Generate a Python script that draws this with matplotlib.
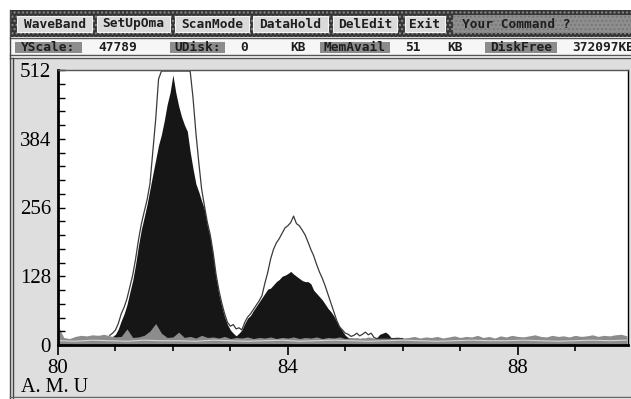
import numpy as np
import matplotlib
matplotlib.use("Agg")
import matplotlib.pyplot as plt
from matplotlib.patches import Rectangle
from matplotlib.ticker import MultipleLocator

# ---------------------------------------------------------------- spectrum data
# peak region, 0.05 amu steps from 80.90 to 86.00
peak_mass = np.round(np.arange(80.90, 86.001, 0.05), 2)
signal = [15, 16, 20, 30, 45, 58, 75, 98, 120, 150,
          185, 215, 238, 262, 290, 318, 345, 372, 392, 418,
          448, 470, 503, 470, 445, 425, 410, 398, 360, 328,
          300, 285, 268, 252, 222, 200, 165, 125, 95, 72,
          52, 38, 28, 22, 17, 22, 28, 40, 50, 55,
          64, 72, 80, 88, 96, 104, 106, 112, 118, 122,
          128, 130, 133, 137, 132, 128, 124, 120, 118, 118,
          114, 102, 96, 90, 84, 76, 68, 62, 54, 44,
          34, 26, 18, 14, 12, 12, 13, 12, 13, 12,
          12, 12, 12, 14, 20, 22, 24, 20, 13, 12,
          12, 12, 12]
envelope = [18, 22, 28, 40, 58, 70, 86, 108, 130, 160,
            195, 225, 248, 270, 300, 360, 420, 495, 510, 510,
            510, 510, 510, 510, 510, 510, 510, 510, 510, 460,
            395, 340, 290, 258, 228, 205, 172, 132, 102, 78,
            58, 42, 35, 38, 30, 32, 28, 42, 52, 58,
            66, 74, 82, 92, 115, 135, 160, 178, 190, 198,
            208, 218, 222, 228, 240, 226, 222, 214, 205, 192,
            178, 166, 150, 136, 124, 110, 94, 78, 62, 46,
            34, 28, 22, 20, 16, 18, 22, 17, 20, 24,
            19, 22, 14, 12, 12, 12, 12, 12, 12, 12,
            12, 12, 12]

# background counts, 0.1 amu steps from 80.0 to 89.9
base_mass = np.round(np.arange(80.0, 89.91, 0.1), 1)
background = [36, 14, 12, 16, 18, 17, 19, 18, 20, 17,
              15, 16, 30, 14, 15, 18, 26, 40, 22, 14,
              15, 24, 14, 16, 13, 18, 14, 15, 13, 16,
              12, 14, 13, 15, 12, 14, 13, 15, 12, 14,
              13, 15, 12, 14, 13, 15, 12, 14, 13, 15,
              12, 14, 13, 12, 15, 13, 12, 14, 13, 15,
              13, 14, 16, 13, 15, 14, 16, 13, 15, 17,
              14, 16, 15, 18, 14, 16, 13, 17, 15, 18,
              16, 15, 17, 19, 16, 15, 18, 16, 17, 15,
              18, 16, 17, 19, 16, 18, 17, 19, 20, 17]
floor_mass = np.round(np.arange(80.0, 89.91, 0.3), 1)
floor = [8, 7, 9, 8, 7, 9, 8, 8, 7, 9, 8, 7, 8, 9, 7, 8, 9,
         8, 7, 8, 9, 8, 7, 8, 9, 8, 8, 9, 8, 7, 8, 9, 8, 9]

y_ticks = [0, 128, 256, 384, 512]
x_ticks = [80, 84, 88]

buttons = ["WaveBand", "SetUpOma", "ScanMode", "DataHold", "DelEdit", "Exit"]
button_x = [(17, 92), (97, 170), (175, 249), (253, 328), (333, 397), (405, 445)]
status_labels = ["YScale:", "UDisk:", "MemAvail", "DiskFree"]
status_box = [(15, 82), (170, 225), (320, 390), (485, 557)]
status_values = [("47789", 98), ("0", 240), ("KB", 290), ("51", 405), ("KB", 447), ("372097KB", 572)]

# ---------------------------------------------------------------- figure
W, H = 631, 399
fig = plt.figure(figsize=(W / 100, H / 100), dpi=100)
fig.patch.set_facecolor("white")


def rect(x0, y0, x1, y1, **kw):
    fig.patches.append(Rectangle((x0 / W, 1 - y1 / H), (x1 - x0) / W, (y1 - y0) / H,
                                 transform=fig.transFigure, zorder=-2, **kw))


def hline(y, x0, x1, **kw):
    fig.add_artist(plt.Line2D([x0 / W, x1 / W], [1 - y / H, 1 - y / H],
                              transform=fig.transFigure, zorder=-1, **kw))


def vline(x, y0, y1, **kw):
    fig.add_artist(plt.Line2D([x / W, x / W], [1 - y0 / H, 1 - y1 / H],
                              transform=fig.transFigure, zorder=-1, **kw))


def label(x, y, s, **kw):
    fig.text(x / W, 1 - y / H, s, **kw)


mono = dict(family="DejaVu Sans Mono", weight="bold", fontsize=9.3, color="#1e1e1e", va="center")

# menu bar
rect(10, 10, 631, 37, facecolor="#363636", edgecolor="#8a8a8a", hatch="....", lw=0)
for name, (x0, x1) in zip(buttons, button_x):
    rect(x0, 16, x1, 32, facecolor="#dadada", edgecolor="#f4f4f4", lw=0.8)
    label((x0 + x1) / 2, 24, name, ha="center", **mono)
rect(453, 15, 631, 33, facecolor="#8e8e8e", edgecolor="#777777", hatch="....", lw=0)
label(462, 24, "Your Command ?", ha="left", **mono)

# status line
rect(10, 37, 631, 55, facecolor="#f6f6f6", lw=0)
for name, (x0, x1) in zip(status_labels, status_box):
    rect(x0, 42, x1, 53, facecolor="#8c8c8c", lw=0)
    label((x0 + x1) / 2, 47.5, name, ha="center", **mono)
for text, x in status_values:
    label(x, 47.5, text, ha="left", **mono)
hline(37.5, 10, 631, color="#555555", lw=1)
hline(55, 10, 631, color="#555555", lw=1)
hline(57.5, 10, 631, color="#555555", lw=1)

# plot panel
rect(10, 58, 631, 398, facecolor="#dedede", lw=0)
vline(10, 10, 398, color="#444444", lw=1)
vline(13, 58, 398, color="#444444", lw=1)
hline(397, 10, 631, color="#666666", lw=1)

ax = fig.add_axes([58 / W, (H - 345) / H, (628 - 58) / W, (345 - 70) / H])
ax.set_zorder(5)
ax.set_facecolor("white")
ax.fill_between(peak_mass, 0, signal, color="#161616", lw=0)
ax.plot(peak_mass, envelope, color="#3a3a3a", lw=0.9)
ax.fill_between(base_mass, 0, background, color="#8c8c8c", lw=0)
ax.plot(floor_mass, floor, color="#d4d4d4", lw=0.8)

ax.set_xlim(80, 89.92)
ax.set_ylim(0, 512)
ax.set_xticks(x_ticks)
ax.xaxis.set_minor_locator(MultipleLocator(1))
ax.set_yticks(y_ticks)
ax.yaxis.set_minor_locator(MultipleLocator(25.6))
ax.tick_params(axis="x", which="major", direction="out", length=7, width=1.2, pad=3)
ax.tick_params(axis="x", which="minor", direction="out", length=4, width=1.2)
ax.tick_params(axis="y", which="both", direction="in", length=5, width=1, pad=5)
for lab in ax.get_xticklabels() + ax.get_yticklabels():
    lab.set_family("Liberation Serif")
    lab.set_fontsize(15)
for side, lw in [("left", 2), ("bottom", 2), ("top", 1), ("right", 1)]:
    ax.spines[side].set_linewidth(lw)
ax.spines["top"].set_color("#555555")

label(21, 388, "A. M. U", family="Liberation Serif", fontsize=14.5, ha="left", va="center")

fig.savefig("out.png", dpi=100)
